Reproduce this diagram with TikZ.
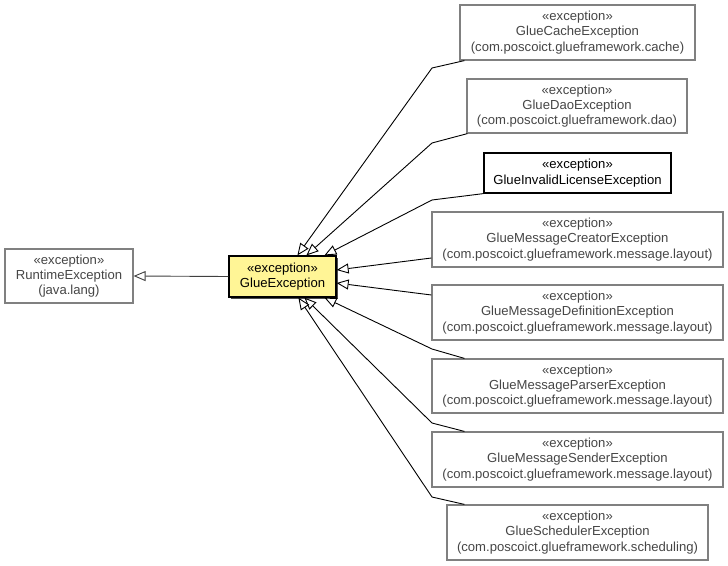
\documentclass[tikz,border=0pt]{standalone}
\usepackage{fontspec}
\setmainfont{Liberation Sans}
\usetikzlibrary{arrows.meta}
\definecolor{boxgray}{RGB}{128,128,128}
\definecolor{txtgray}{RGB}{70,70,70}
\definecolor{geyellow}{RGB}{255,245,150}
\begin{document}
\begin{tikzpicture}[x=1pt,y=-1pt,
  cls/.style={draw=boxgray,line width=1.2pt,fill=white,text=txtgray,align=center,inner sep=0pt,
    font=\fontsize{13.1}{15.3}\selectfont},
  clsdark/.style={cls,draw=black,text=black},
  inh/.style={line width=0.9pt,-{Triangle[fill=white,length=12pt,width=10pt,line width=0.9pt]}}]
\useasboundingbox (0,0) rectangle (728,565);
\fill[white] (0,0) rectangle (728,565);
\node[cls,minimum width=128pt,minimum height=54pt] (rt) at (69,276) {«exception»\\RuntimeException\\(java.lang)};
% shadow of GlueException
\fill[black!70] (231,258) rectangle (338,299);
\node[clsdark,fill=geyellow,minimum width=107pt,minimum height=41pt] (ge) at (282.5,276.5) {«exception»\\GlueException};
\node[cls,minimum width=235pt,minimum height=55pt] (cache) at (577.5,32.5) {«exception»\\GlueCacheException\\(com.poscoict.glueframework.cache)};
\node[cls,minimum width=220pt,minimum height=54pt] (dao) at (577,106) {«exception»\\GlueDaoException\\(com.poscoict.glueframework.dao)};
\node[clsdark,minimum width=187pt,minimum height=40pt] (inv) at (577.5,173) {«exception»\\GlueInvalidLicenseException};
\node[cls,minimum width=291pt,minimum height=55pt] (cre) at (577.5,239.5) {«exception»\\GlueMessageCreatorException\\(com.poscoict.glueframework.message.layout)};
\node[cls,minimum width=291pt,minimum height=55pt] (def) at (577.5,312.5) {«exception»\\GlueMessageDefinitionException\\(com.poscoict.glueframework.message.layout)};
\node[cls,minimum width=291pt,minimum height=54pt] (par) at (577.5,386) {«exception»\\GlueMessageParserException\\(com.poscoict.glueframework.message.layout)};
\node[cls,minimum width=291pt,minimum height=55pt] (snd) at (577.5,459.5) {«exception»\\GlueMessageSenderException\\(com.poscoict.glueframework.message.layout)};
\node[cls,minimum width=261pt,minimum height=55pt] (sch) at (577.5,532.5) {«exception»\\GlueSchedulerException\\(com.poscoict.glueframework.scheduling)};
% bends
\coordinate (b1) at (432,68);
\coordinate (b2) at (432,143);
\coordinate (b3) at (432,200);
\coordinate (b6) at (432,349);
\coordinate (b7) at (432,423);
\coordinate (b8) at (432,497);
% connectors
\draw[inh,draw=black!75] (ge.west) -- (rt.east);
\draw[inh] ([xshift=5pt]cache.south west) -- (b1) -- ([xshift=69pt]ge.north west);
\draw[inh] ([xshift=1pt]dao.south west) -- (b2) -- ([xshift=78pt]ge.north west);
\draw[inh] (inv.south west) -- (b3) -- ([xshift=96pt]ge.north west);
\draw[inh] ([yshift=-18.5pt]cre.west) -- ([yshift=6.5pt]ge.east);
\draw[inh] ([yshift=17.5pt]def.west) -- ([yshift=-6.5pt]ge.east);
\draw[inh] ([xshift=33pt]par.north west) -- (b6) -- ([xshift=96pt]ge.south west);
\draw[inh] ([xshift=33pt]snd.north west) -- (b7) -- ([xshift=76pt]ge.south west);
\draw[inh] ([xshift=18pt]sch.north west) -- (b8) -- ([xshift=70pt]ge.south west);
\end{tikzpicture}
\end{document}
